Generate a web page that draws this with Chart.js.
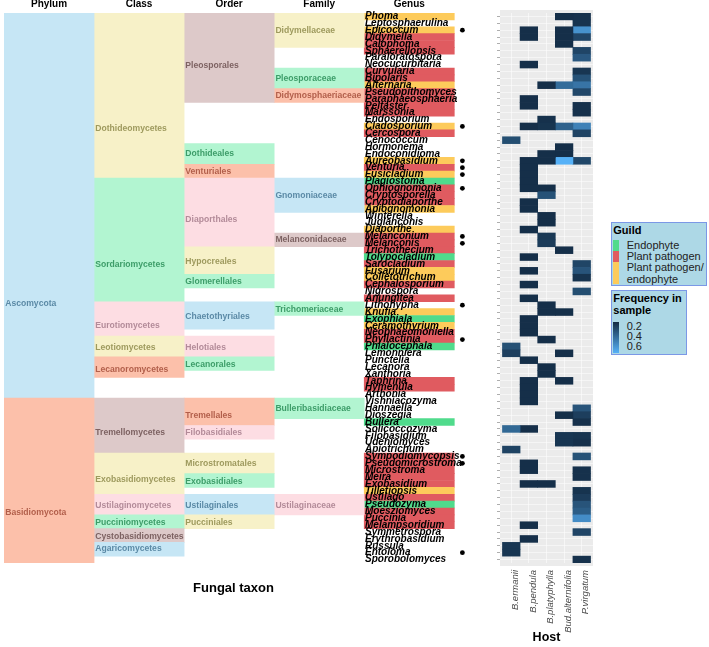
<!DOCTYPE html>
<html><head><meta charset="utf-8">
<script src="https://cdn.jsdelivr.net/npm/chart.js@4.4.1/dist/chart.umd.min.js"></script>
<style>
html,body{margin:0;padding:0;background:#fff;}
#wrap{position:relative;width:709px;height:647px;overflow:hidden;font-family:"Liberation Sans",Arial,sans-serif;}
#tax{position:absolute;left:0;top:0;z-index:1}
#heat{position:absolute;left:360px;top:0;z-index:2}
.box{position:absolute;box-sizing:border-box;background:#add8e6;border:1.5px solid #7b98e6;z-index:3}
.t{position:absolute;white-space:nowrap;line-height:12px;height:12px;font-size:11px;color:#222;z-index:4}
.sw{position:absolute;width:6px;z-index:4}
</style></head><body>
<div id="wrap">
<canvas id="tax" width="470" height="647"></canvas>
<canvas id="heat" width="243" height="647"></canvas>
<div class="box" style="left:611px;top:222px;width:96px;height:64px"></div>
<div class="box" style="left:611px;top:290px;width:76px;height:65px"></div>
</div>
<script>
// ---------------- data ----------------
const genera = ['Phoma','Leptosphaerulina','Epicoccum','Didymella','Calophoma','Sphaerellopsis','Paraloratospora','Neocucurbitaria','Curvularia','Bipolaris','Alternaria','Pseudopithomyces','Paraphaeosphaeria','Peltaster','Marssonia','Endosporium','Cladosporium','Cercospora','Cenococcum','Hormonema','Endoconidioma','Aureobasidium','Venturia','Fusicladium','Plagiostoma','Ophiognomonia','Cryptosporella','Cryptodiaporthe','Apiognomonia','Winterella','Juglanconis','Diaporthe','Melanconium','Melanconis','Trichothecium','Tolypocladium','Sarocladium','Fusarium','Colletotrichum','Cephalosporium','Nigrospora','Anungitea','Lithohypha','Knufia','Exophiala','Ceramothyrium','Neophaeomoniella','Phyllactinia','Phialocephala','Lemonniera','Punctelia','Lecanora','Xanthoria','Taphrina','Hymenula','Arthonia','Vishniacozyma','Hannaella','Dioszegia','Bullera','Solicoccozyma','Filobasidium','Udeniomyces','Apiotrichum','Sympodiomycopsis','Pseudomicrostroma','Microstroma','Meira','Exobasidium','Tilletiopsis','Ustilago','Pseudozyma','Moesziomyces','Puccinia','Melampsoridium','Symmetrospora','Erythrobasidium','Russula','Entoloma','Sporobolomyces'];

const levels = ['Phylum','Class','Order','Family','Genus'];
const hosts = ['B.ermanii','B.pendula','B.platyphylla','Bud.alternifolia','P.virgatum'];

const phylumNames = ['Ascomycota','Basidiomycota'];
const phylumSpans = [['Phoma','Arthonia'],['Vishniacozyma','Sporobolomyces']];

const classNames = ['Dothideomycetes','Sordariomycetes','Eurotiomycetes','Leotiomycetes','Lecanoromycetes','Tremellomycetes','Exobasidiomycetes','Ustilaginomycetes','Pucciniomycetes','Cystobasidiomycetes','Agaricomycetes'];
const classSpans = [['Phoma','Fusicladium'],['Plagiostoma','Anungitea'],['Lithohypha','Neophaeomoniella'],['Phyllactinia','Lemonniera'],['Punctelia','Xanthoria'],['Vishniacozyma','Apiotrichum'],['Sympodiomycopsis','Tilletiopsis'],['Ustilago','Moesziomyces'],['Puccinia','Melampsoridium'],['Symmetrospora','Erythrobasidium'],['Russula','Entoloma']];

const orderNames = ['Pleosporales','Dothideales','Venturiales','Diaporthales','Hypocreales','Glomerellales','Chaetothyriales','Helotiales','Lecanorales','Tremellales','Filobasidiales','Microstromatales','Exobasidiales','Ustilaginales','Pucciniales'];
const orderSpans = [['Phoma','Paraphaeosphaeria'],['Hormonema','Aureobasidium'],['Venturia','Fusicladium'],['Plagiostoma','Melanconis'],['Trichothecium','Fusarium'],['Colletotrichum','Cephalosporium'],['Lithohypha','Ceramothyrium'],['Phyllactinia','Lemonniera'],['Punctelia','Lecanora'],['Vishniacozyma','Bullera'],['Solicoccozyma','Filobasidium'],['Sympodiomycopsis','Microstroma'],['Meira','Exobasidium'],['Ustilago','Moesziomyces'],['Puccinia','Melampsoridium']];

const familyNames = ['Didymellaceae','Pleosporaceae','Didymosphaeriaceae','Gnomoniaceae','Melanconidaceae','Trichomeriaceae','Bulleribasidiaceae','Ustilaginaceae'];
const familySpans = [['Phoma','Calophoma'],['Curvularia','Alternaria'],['Pseudopithomyces','Paraphaeosphaeria'],['Plagiostoma','Apiognomonia'],['Melanconium','Melanconis'],['Lithohypha','Knufia'],['Vishniacozyma','Dioszegia'],['Ustilago','Moesziomyces']];

const guilds = ['Endophyte','Plant pathogen','Plant pathogen/endophyte'];
const endophyteGenera = ['Plagiostoma','Tolypocladium','Exophiala','Phialocephala','Bullera','Pseudozyma'];
const pathogenGenera = ['Didymella','Calophoma','Sphaerellopsis','Curvularia','Bipolaris','Pseudopithomyces','Paraphaeosphaeria','Peltaster','Marssonia','Cercospora','Venturia','Ophiognomonia','Cryptosporella','Cryptodiaporthe','Melanconium','Melanconis','Trichothecium','Sarocladium','Cephalosporium','Anungitea','Neophaeomoniella','Phyllactinia','Taphrina','Hymenula','Sympodiomycopsis','Pseudomicrostroma','Microstroma','Meira','Exobasidium','Ustilago','Moesziomyces','Puccinia','Melampsoridium'];
const pathEndoGenera = ['Phoma','Epicoccum','Alternaria','Cladosporium','Aureobasidium','Fusicladium','Apiognomonia','Diaporthe','Fusarium','Colletotrichum','Knufia','Ceramothyrium','Tilletiopsis'];

const markedGenera = ['Epicoccum','Cladosporium','Aureobasidium','Venturia','Fusicladium','Ophiognomonia','Melanconium','Melanconis','Lithohypha','Phyllactinia','Sympodiomycopsis','Pseudomicrostroma','Entoloma'];

// frequency in sample, per host: [genus, frequency]
const freqBErmanii = [['Cenococcum',0.28],['Phialocephala',0.29],['Lemonniera',0.21],['Solicoccozyma',0.40],['Apiotrichum',0.23],['Russula',0.17],['Entoloma',0.17]];
const freqBPendula = [['Epicoccum',0.14],['Didymella',0.14],['Neocucurbitaria',0.14],['Paraphaeosphaeria',0.14],['Peltaster',0.14],['Cladosporium',0.14],['Aureobasidium',0.14],['Venturia',0.14],['Fusicladium',0.14],['Plagiostoma',0.14],['Ophiognomonia',0.14],['Cryptodiaporthe',0.14],['Apiognomonia',0.14],['Diaporthe',0.14],['Tolypocladium',0.14],['Fusarium',0.14],['Cephalosporium',0.14],['Anungitea',0.14],['Exophiala',0.14],['Ceramothyrium',0.14],['Neophaeomoniella',0.14],['Punctelia',0.14],['Taphrina',0.14],['Hymenula',0.14],['Arthonia',0.14],['Vishniacozyma',0.14],['Solicoccozyma',0.14],['Pseudomicrostroma',0.14],['Microstroma',0.14],['Exobasidium',0.14],['Melampsoridium',0.14],['Erythrobasidium',0.14]];
const freqBPlatyphylla = [['Alternaria',0.14],['Endosporium',0.15],['Cladosporium',0.16],['Endoconidioma',0.14],['Aureobasidium',0.14],['Ophiognomonia',0.14],['Cryptosporella',0.30],['Winterella',0.14],['Juglanconis',0.14],['Melanconium',0.18],['Melanconis',0.20],['Lithohypha',0.14],['Knufia',0.14],['Phyllactinia',0.14],['Lecanora',0.14],['Xanthoria',0.14],['Exobasidium',0.14]];
const freqBudAlternifolia = [['Phoma',0.14],['Epicoccum',0.14],['Didymella',0.14],['Calophoma',0.14],['Alternaria',0.42],['Cladosporium',0.37],['Hormonema',0.14],['Endoconidioma',0.14],['Aureobasidium',0.74],['Trichothecium',0.14],['Knufia',0.14],['Lemonniera',0.14],['Taphrina',0.14],['Dioszegia',0.14],['Filobasidium',0.17],['Udeniomyces',0.17]];
const freqPVirgatum = [['Phoma',0.15],['Leptosphaerulina',0.16],['Epicoccum',0.60],['Didymella',0.25],['Sphaerellopsis',0.24],['Paraloratospora',0.33],['Curvularia',0.17],['Bipolaris',0.30],['Alternaria',0.46],['Pseudopithomyces',0.25],['Peltaster',0.15],['Marssonia',0.15],['Cladosporium',0.52],['Cercospora',0.23],['Aureobasidium',0.25],['Sarocladium',0.24],['Fusarium',0.31],['Colletotrichum',0.16],['Nigrospora',0.28],['Hannaella',0.31],['Dioszegia',0.21],['Bullera',0.15],['Filobasidium',0.16],['Udeniomyces',0.15],['Sympodiomycopsis',0.30],['Microstroma',0.15],['Meira',0.15],['Tilletiopsis',0.16],['Ustilago',0.20],['Pseudozyma',0.31],['Moesziomyces',0.35],['Puccinia',0.57],['Symmetrospora',0.24],['Sporobolomyces',0.15]];
const freqRange = [0.12, 0.74];
const freqTicks = [0.2, 0.4, 0.6];

// ---------------- styles / layout ----------------
const palette = {
  blue:   {fill:'#c6e6f5', text:'#5b8aa6'},
  salmon: {fill:'#fcc0aa', text:'#b25f4b'},
  yellow: {fill:'#f7f1c8', text:'#9e9a5e'},
  green:  {fill:'#b2f5d1', text:'#3d9d69'},
  pink:   {fill:'#fddde3', text:'#b38b99'},
  mauve:  {fill:'#ddc9c9', text:'#7d6262'}
};
const tint = {
  Ascomycota:'blue', Basidiomycota:'salmon',
  Dothideomycetes:'yellow', Sordariomycetes:'green', Eurotiomycetes:'pink', Leotiomycetes:'yellow', Lecanoromycetes:'salmon', Tremellomycetes:'mauve', Exobasidiomycetes:'yellow', Ustilaginomycetes:'pink', Pucciniomycetes:'green', Cystobasidiomycetes:'mauve', Agaricomycetes:'blue',
  Pleosporales:'mauve', Dothideales:'green', Venturiales:'salmon', Diaporthales:'pink', Hypocreales:'yellow', Glomerellales:'green', Chaetothyriales:'blue', Helotiales:'pink', Lecanorales:'green', Tremellales:'salmon', Filobasidiales:'pink', Microstromatales:'yellow', Exobasidiales:'green', Ustilaginales:'blue', Pucciniales:'yellow',
  Didymellaceae:'yellow', Pleosporaceae:'green', Didymosphaeriaceae:'salmon', Gnomoniaceae:'blue', Melanconidaceae:'mauve', Trichomeriaceae:'green', Bulleribasidiaceae:'green', Ustilaginaceae:'pink'
};
// vertical anchor of each block label, in genus-row units
const labelRow = {
  Ascomycota:42.3, Basidiomycota:72.7,
  Dothideomycetes:16.8, Sordariomycetes:36.6, Eurotiomycetes:45.4, Leotiomycetes:48.6, Lecanoromycetes:51.9, Tremellomycetes:61.0, Exobasidiomycetes:67.8, Ustilaginomycetes:71.7, Pucciniomycetes:74.1, Cystobasidiomycetes:76.2, Agaricomycetes:77.9,
  Pleosporales:7.6, Dothideales:20.5, Venturiales:23.1, Diaporthales:30.1, Hypocreales:36.1, Glomerellales:39.1, Chaetothyriales:44.1, Helotiales:48.6, Lecanorales:51.1, Tremellales:58.6, Filobasidiales:61.1, Microstromatales:65.6, Exobasidiales:68.2, Ustilaginales:71.7, Pucciniales:74.1,
  Didymellaceae:2.5, Pleosporaceae:9.55, Didymosphaeriaceae:12.07, Gnomoniaceae:26.6, Melanconidaceae:33.0, Trichomeriaceae:43.1, Bulleribasidiaceae:57.6, Ustilaginaceae:71.7
};
const guildColour = {'Endophyte':'#50db8c','Plant pathogen':'#e05b60','Plant pathogen/endophyte':'#fdcb5b'};
const lowColour = [0x13,0x2b,0x43], highColour = [0x56,0xb1,0xf7];

// ---------------- helpers ----------------
const FONT = '"Liberation Sans", Arial, sans-serif';
Chart.defaults.font.family = FONT;
const rowOf = g => genera.indexOf(g);
function freqColour(v){
  const t = Math.max(0, Math.min(1, (v - freqRange[0]) / (freqRange[1] - freqRange[0])));
  const c = lowColour.map((l,i)=>Math.round(l + (highColour[i]-l)*t));
  return `rgb(${c[0]},${c[1]},${c[2]})`;
}
const guildOf = {};
endophyteGenera.forEach(g=>guildOf[g]='Endophyte');
pathogenGenera.forEach(g=>guildOf[g]='Plant pathogen');
pathEndoGenera.forEach(g=>guildOf[g]='Plant pathogen/endophyte');

const taxLevels = [[phylumNames,phylumSpans],[classNames,classSpans],[orderNames,orderSpans],[familyNames,familySpans]];
const levelTicks = s => { s.ticks = levels.map((l,i)=>({value:i+0.5})); };

const taxDatasets = taxLevels.map(([names,spans],li)=>({
  type:'bar', label:levels[li], grouped:false, barPercentage:1, categoryPercentage:1, borderWidth:0,
  data: names.map((n,i)=>({x:li+0.5, y:[rowOf(spans[i][0]), rowOf(spans[i][1])+1], name:n})),
  backgroundColor: ctx => palette[tint[ctx.raw.name]].fill
}));
taxDatasets.push({
  type:'bar', label:'Guild', grouped:false, barPercentage:1, categoryPercentage:1, borderWidth:0,
  data: genera.filter(g=>guildOf[g]).map(g=>({x:levels.length-0.5, y:[rowOf(g), rowOf(g)+1], name:g})),
  backgroundColor: ctx => guildColour[guildOf[ctx.raw.name]]
});
taxDatasets.push({
  type:'scatter', label:'marked', clip:false,
  data: markedGenera.map(g=>({x:levels.length+0.09, y:rowOf(g)+0.5})),
  pointRadius:2.4, pointBackgroundColor:'#000', pointBorderWidth:0
});

const blockLabels = {
  id:'blockLabels',
  afterDatasetsDraw(chart){
    const {ctx, scales:{x,y}} = chart;
    ctx.save();
    ctx.font = 'bold 8.6px ' + FONT;
    ctx.textBaseline = 'middle'; ctx.textAlign = 'left';
    taxLevels.forEach(([names],li)=>names.forEach(n=>{
      ctx.fillStyle = palette[tint[n]].text;
      ctx.fillText(n, x.getPixelForValue(li)+1.2, y.getPixelForValue(labelRow[n]));
    }));
    ctx.restore();
  }
};

new Chart(document.getElementById('tax'), {
  type:'bar',
  data:{datasets:taxDatasets},
  options:{
    responsive:false, animation:false, events:[],
    layout:{padding:{left:1,right:4,top:0,bottom:0}},
    scales:{
      x:{type:'linear', position:'top', min:0, max:5.13, offset:false,
         afterBuildTicks:levelTicks, afterFit:s=>{s.height=13;},
         grid:{display:false}, border:{display:false},
         ticks:{autoSkip:false, padding:-5.5, color:'#000', font:{size:10, weight:'bold'}, callback:(v,i)=>levels[i]}},
      y:{type:'linear', min:0, max:genera.length, reverse:true, display:false}
    },
    plugins:{legend:{display:false}, tooltip:{enabled:false},
      title:{display:true, position:'bottom', text:'Fungal taxon', color:'#000', font:{size:13, weight:'bold'}, padding:{top:17.7, bottom:50.7}}}
  },
  plugins:[blockLabels]
});

// ---------------- heatmap ----------------
const hostFreq = [freqBErmanii, freqBPendula, freqBPlatyphylla, freqBudAlternifolia, freqPVirgatum].map(a=>new Map(a));
const panelBg = {
  id:'panelBg',
  beforeDraw(chart){
    const {ctx, chartArea:a} = chart;
    ctx.save(); ctx.fillStyle = '#ebebeb';
    ctx.fillRect(a.left, a.top-3, a.right-a.left, a.bottom-a.top+6);
    ctx.restore();
  }
};
new Chart(document.getElementById('heat'), {
  type:'bar',
  data:{
    labels: genera,
    datasets: hosts.map((h,hi)=>({
      label:h, grouped:false, barPercentage:1, categoryPercentage:1, borderWidth:0,
      data: genera.map(g=> hostFreq[hi].has(g) ? [hi, hi+1] : null),
      backgroundColor: ctx => freqColour(hostFreq[hi].get(genera[ctx.dataIndex]) || 0)
    }))
  },
  options:{
    indexAxis:'y', responsive:false, animation:false, events:[],
    layout:{padding:{left:5,right:10,top:13,bottom:0}},
    scales:{
      y:{type:'category', offset:true, afterFit:s=>{s.width=135;},
         grid:{offset:false, color:'rgba(255,255,255,0.85)', lineWidth:0.6, tickColor:'#777', tickLength:3},
         border:{display:false},
         ticks:{autoSkip:false, crossAlign:'far', padding:0, color:'#000', font:{size:10, style:'italic', weight:'bold'}}},
      x:{type:'linear', min:-0.14, max:hosts.length+0.14, offset:false,
         afterBuildTicks:s=>{ s.ticks = hosts.map((h,i)=>({value:i+0.5})); },
         afterFit:s=>{s.height=84;},
         grid:{color:'rgba(255,255,255,0.9)', lineWidth:0.6, tickColor:'rgba(0,0,0,0)', tickLength:5},
         border:{display:false},
         ticks:{autoSkip:false, minRotation:90, maxRotation:90, padding:2, labelOffset:4, color:'#4d4d4d',
                font:{size:9.5, style:'italic'}, callback:(v,i)=>hosts[i]},
         title:{display:true, text:'Host', color:'#000', font:{size:12.5, weight:'bold'}, padding:{top:2,bottom:1.5}}}
    },
    plugins:{legend:{display:false}, tooltip:{enabled:false}}
  },
  plugins:[panelBg]
});

// ---------------- legends (HTML text) ----------------
const wrap = document.getElementById('wrap');
function txt(s, x, cy, bold){
  const d = document.createElement('div'); d.className='t'; d.textContent = s;
  d.style.left = x+'px'; d.style.top = (cy-6)+'px';
  if (bold){ d.style.fontWeight='bold'; d.style.color='#000'; }
  wrap.appendChild(d);
}
function sw(x, y0, y1, bg){
  const d = document.createElement('div'); d.className='sw';
  d.style.left = x+'px'; d.style.top = y0+'px'; d.style.height = (y1-y0)+'px'; d.style.background = bg;
  wrap.appendChild(d);
}
txt('Guild', 613.3, 230, true);
const guildKeyTop = [240, 251, 261.7], guildKeyBottom = [251, 261.7, 284];
guilds.forEach((g,i)=>sw(613.3, guildKeyTop[i], guildKeyBottom[i], guildColour[g]));
txt('Endophyte', 626.7, 245.3); txt('Plant pathogen', 626.7, 256.3);
txt('Plant pathogen/', 626.7, 267.3); txt('endophyte', 626.7, 279.3);

txt('Frequency in', 613.3, 298.3, true); txt('sample', 613.3, 310, true);
const barTop = 321.7, barBottom = 352.7;
sw(613.3, barTop, barBottom, `linear-gradient(to bottom, ${freqColour(freqRange[0])}, ${freqColour(freqRange[1])})`);
freqTicks.forEach(v=>{
  const cy = barTop + (v - freqRange[0])/(freqRange[1]-freqRange[0])*(barBottom-barTop);
  txt(String(v), 626.7, cy);
});
</script>
</body></html>
